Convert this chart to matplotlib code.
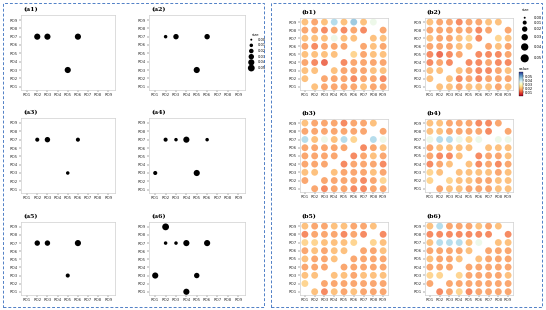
import matplotlib
matplotlib.use('Agg')
import matplotlib.pyplot as plt
import numpy as np
from matplotlib.patches import Rectangle
from matplotlib import cm, colors

W, H = 546, 310
labels = ['RO1', 'RO2', 'RO3', 'RO4', 'RO5', 'RO6', 'RO7', 'RO8', 'RO9']

# ---- (a) panels: x station, y station, size
a1_x = ['RO2', 'RO3', 'RO6', 'RO5']
a1_y = ['RO7', 'RO7', 'RO7', 'RO3']
a1_s = [0.04, 0.04, 0.04, 0.04]

a2_x = ['RO2', 'RO3', 'RO6', 'RO5']
a2_y = ['RO7', 'RO7', 'RO7', 'RO3']
a2_s = [0.01, 0.03, 0.03, 0.04]

a3_x = ['RO2', 'RO3', 'RO6', 'RO5']
a3_y = ['RO7', 'RO7', 'RO7', 'RO3']
a3_s = [0.015, 0.03, 0.015, 0.01]

a4_x = ['RO2', 'RO3', 'RO4', 'RO6', 'RO1', 'RO5']
a4_y = ['RO7', 'RO7', 'RO7', 'RO7', 'RO3', 'RO3']
a4_s = [0.015, 0.01, 0.04, 0.01, 0.015, 0.04]

a5_x = ['RO2', 'RO3', 'RO6', 'RO5']
a5_y = ['RO7', 'RO7', 'RO7', 'RO3']
a5_s = [0.03, 0.03, 0.04, 0.015]

a6_x = ['RO2', 'RO2', 'RO3', 'RO4', 'RO6', 'RO1', 'RO5', 'RO4']
a6_y = ['RO9', 'RO7', 'RO7', 'RO7', 'RO7', 'RO3', 'RO3', 'RO1']
a6_s = [0.05, 0.01, 0.01, 0.04, 0.04, 0.04, 0.03, 0.04]

size_ticks = [0.00, 0.01, 0.02, 0.03, 0.04, 0.05]

# ---- (b) panels: rows RO9 (top) .. RO1 (bottom), columns RO1 .. RO9
n = np.nan
b1_vals = [
    [0.019, 0.016, 0.019, 0.042, 0.019, 0.045, 0.019, 0.034, n],
    [0.016, 0.016, 0.013, 0.016, 0.013, 0.016, 0.013, n, 0.016],
    [0.019, 0.019, 0.019, 0.034, 0.019, 0.019, n, 0.019, 0.019],
    [0.016, 0.013, 0.016, 0.016, 0.016, n, 0.016, 0.019, 0.016],
    [0.019, 0.019, 0.019, 0.019, n, 0.022, 0.016, 0.019, 0.019],
    [0.016, 0.013, 0.010, n, 0.013, 0.016, 0.016, 0.016, 0.016],
    [0.019, 0.019, n, 0.019, 0.016, 0.016, 0.016, 0.019, 0.019],
    [0.019, n, 0.016, 0.016, 0.016, 0.013, 0.016, 0.016, 0.013],
    [n, 0.019, 0.016, 0.016, 0.016, 0.016, 0.019, 0.016, 0.016],
]
b2_vals = [
    [0.019, 0.016, 0.016, 0.013, 0.016, 0.016, 0.019, 0.019, n],
    [0.016, 0.016, 0.016, 0.016, 0.016, 0.013, 0.016, n, 0.016],
    [0.019, 0.016, 0.016, 0.019, 0.022, 0.013, n, 0.022, 0.019],
    [0.016, 0.016, 0.016, 0.019, 0.019, n, 0.016, 0.019, 0.016],
    [0.013, 0.010, 0.013, 0.016, n, 0.013, 0.013, 0.013, 0.016],
    [0.013, 0.016, 0.013, n, 0.013, 0.013, 0.016, 0.013, 0.013],
    [0.019, 0.019, n, 0.019, 0.016, 0.013, 0.013, 0.016, 0.019],
    [0.019, n, 0.019, 0.013, 0.016, 0.013, 0.016, 0.016, 0.016],
    [n, 0.019, 0.019, 0.016, 0.019, 0.019, 0.019, 0.016, 0.019],
]
b3_vals = [
    [0.019, 0.016, 0.016, 0.016, 0.013, 0.016, 0.016, 0.019, n],
    [0.016, 0.016, 0.016, 0.016, 0.016, 0.016, 0.016, n, 0.016],
    [0.042, 0.019, 0.034, 0.019, 0.042, 0.022, n, 0.042, 0.034],
    [0.016, 0.016, 0.016, 0.016, 0.016, n, 0.013, 0.016, 0.019],
    [0.016, 0.016, 0.016, 0.016, n, 0.013, 0.016, 0.019, 0.016],
    [0.016, 0.016, 0.016, n, 0.013, 0.016, 0.016, 0.016, 0.013],
    [0.019, 0.019, n, 0.019, 0.016, 0.016, 0.016, 0.019, 0.016],
    [0.016, n, 0.016, 0.016, 0.016, 0.016, 0.013, 0.016, 0.022],
    [n, 0.016, 0.013, 0.016, 0.016, 0.013, 0.013, 0.016, 0.016],
]
b4_vals = [
    [0.019, 0.019, 0.016, 0.016, 0.016, 0.013, 0.013, 0.016, n],
    [0.019, 0.019, 0.016, 0.016, 0.016, 0.016, 0.013, n, 0.016],
    [0.034, 0.042, 0.042, 0.034, 0.022, 0.034, n, 0.034, 0.034],
    [0.016, 0.019, 0.019, 0.019, 0.019, n, 0.019, 0.019, 0.019],
    [0.016, 0.013, 0.013, 0.019, n, 0.013, 0.016, 0.016, 0.019],
    [0.013, 0.016, 0.019, n, 0.019, 0.013, 0.016, 0.013, 0.016],
    [0.022, 0.019, n, 0.019, 0.019, 0.019, 0.019, 0.016, 0.019],
    [0.022, n, 0.022, 0.019, 0.019, 0.016, 0.016, 0.019, 0.019],
    [n, 0.016, 0.019, 0.019, 0.016, 0.016, 0.016, 0.019, 0.019],
]
b5_vals = [
    [0.019, 0.016, 0.016, 0.019, 0.019, 0.016, 0.016, 0.019, n],
    [0.013, 0.016, 0.016, 0.016, 0.013, 0.016, 0.013, n, 0.013],
    [0.022, 0.022, 0.019, 0.019, 0.019, 0.022, n, 0.022, 0.019],
    [0.016, 0.019, 0.016, 0.019, 0.019, n, 0.016, 0.016, 0.019],
    [0.019, 0.016, 0.016, 0.019, n, 0.016, 0.016, 0.016, 0.016],
    [0.016, 0.016, 0.016, n, 0.016, 0.016, 0.016, 0.016, 0.016],
    [0.019, 0.019, n, 0.019, 0.019, 0.016, 0.019, 0.019, 0.019],
    [0.022, n, 0.016, 0.016, 0.016, 0.016, 0.016, 0.016, 0.016],
    [n, 0.019, 0.013, 0.019, 0.016, 0.019, 0.016, 0.016, 0.016],
]
b6_vals = [
    [0.019, 0.042, 0.016, 0.016, 0.016, 0.019, 0.016, 0.019, n],
    [0.013, 0.013, 0.013, 0.013, 0.013, 0.013, 0.013, n, 0.013],
    [0.019, 0.042, 0.042, 0.042, 0.019, 0.034, n, 0.019, 0.019],
    [0.016, 0.016, 0.016, 0.016, 0.019, n, 0.016, 0.016, 0.016],
    [0.019, 0.016, 0.016, 0.019, n, 0.019, 0.016, 0.016, 0.016],
    [0.016, 0.016, 0.016, n, 0.016, 0.016, 0.016, 0.016, 0.016],
    [0.022, 0.022, n, 0.022, 0.016, 0.016, 0.016, 0.016, 0.019],
    [0.016, n, 0.016, 0.016, 0.016, 0.016, 0.016, 0.016, 0.016],
    [n, 0.013, 0.016, 0.022, 0.013, 0.016, 0.016, 0.016, 0.016],
]
b_size = 0.035
value_ticks = [0.01, 0.02, 0.03, 0.04, 0.05]

cmap = plt.get_cmap('RdYlBu')
norm = colors.Normalize(vmin=0.0, vmax=0.06)


def size_a(v):
    return 2 + np.asarray(v) / 0.05 * 22


def size_b(v):
    return 2 + np.asarray(v) / 0.05 * 32


def px(x0, y0, x1, y1):
    return [x0 / W, 1 - y1 / H, (x1 - x0) / W, (y1 - y0) / H]


def style_axes(ax, title):
    ax.set_xticks(range(1, 10))
    ax.set_yticks(range(1, 10))
    ax.set_xticklabels(labels)
    ax.set_yticklabels(labels)
    ax.tick_params(labelsize=2.8, length=1.2, width=0.3, pad=1, colors='#333333')
    for sp in ax.spines.values():
        sp.set_color('#cfcfcf')
        sp.set_linewidth(0.5)
    ax.text(0.02, 1.04, title, transform=ax.transAxes, fontsize=4.5,
            fontweight='bold', family='DejaVu Serif', ha='left', va='bottom')


fig = plt.figure(figsize=(W / 100, H / 100), dpi=100)

# dashed frames
for x0, x1 in [(3, 264), (271, 542)]:
    fig.patches.append(Rectangle((x0 / W, 3 / H), (x1 - x0) / W, (H - 6) / H,
                                 transform=fig.transFigure, fill=False,
                                 ec='#4f7fc6', lw=0.7, ls=(0, (3, 2))))

a_sets = [(a1_x, a1_y, a1_s, '(a1)'), (a2_x, a2_y, a2_s, '(a2)'),
          (a3_x, a3_y, a3_s, '(a3)'), (a4_x, a4_y, a4_s, '(a4)'),
          (a5_x, a5_y, a5_s, '(a5)'), (a6_x, a6_y, a6_s, '(a6)')]
rows = [(15, 90), (118, 193), (222, 295)]
a_cols = [(21, 115), (149, 245)]

for i, (xs, ys, ss, t) in enumerate(a_sets):
    top, bot = rows[i // 2]
    left, right = a_cols[i % 2]
    ax = fig.add_axes(px(left, top, right, bot))
    xi = [labels.index(v) + 1 for v in xs]
    yi = [labels.index(v) + 1 for v in ys]
    ax.scatter(xi, yi, s=size_a(ss), c='black', lw=0)
    ax.set_xlim(0.4, 9.65)
    ax.set_ylim(0.6, 9.6)
    style_axes(ax, t)

# size legend for (a)
lg = fig.add_axes(px(245, 34, 266, 72))
lg.axis('off')
lg.set_xlim(0, 1)
lg.set_ylim(0.3, 7)
lg.scatter([0.3] * 6, np.arange(6, 0, -1), s=size_a(size_ticks), c='black', lw=0)
for k, v in enumerate(size_ticks):
    lg.text(0.6, 6 - k, f'{v:.2f}', fontsize=2.6, va='center', ha='left')
lg.text(0.3, 6.9, 'size', fontsize=2.8, ha='left', va='center')

b_sets = [(b1_vals, '(b1)'), (b2_vals, '(b2)'), (b3_vals, '(b3)'),
          (b4_vals, '(b4)'), (b5_vals, '(b5)'), (b6_vals, '(b6)')]
b_rows = [(18, 90), (119, 192), (222, 295)]
b_cols = [(300, 388), (425, 513)]
yy, xx = np.meshgrid(np.arange(9, 0, -1), np.arange(1, 10), indexing='ij')

for i, (vals, t) in enumerate(b_sets):
    top, bot = b_rows[i // 2]
    left, right = b_cols[i % 2]
    ax = fig.add_axes(px(left, top, right, bot))
    v = np.array(vals)
    m = ~np.isnan(v)
    ax.scatter(xx[m], yy[m], s=size_b(b_size), c=v[m], cmap=cmap, norm=norm,
               lw=0, alpha=0.85)
    ax.set_xlim(0.5, 9.5)
    ax.set_ylim(0.6, 9.5)
    style_axes(ax, t)

# size legend for (b)
lg = fig.add_axes(px(516, 8, 545, 64))
lg.axis('off')
lg.set_xlim(0, 1)
lg.set_ylim(0.3, 7.2)
ypos = [6, 5.4, 4.6, 3.6, 2.4, 1.0]
lg.scatter([0.3] * 6, ypos, s=size_b(size_ticks), c='black', lw=0)
for yv, v in zip(ypos, size_ticks):
    lg.text(0.62, yv, f'{v:.2f}', fontsize=2.6, va='center', ha='left')
lg.text(0.2, 6.9, 'size', fontsize=2.8, ha='left', va='center')

# colorbar for (b)
cax = fig.add_axes(px(519, 72, 523, 96))
sm = cm.ScalarMappable(norm=norm, cmap=cmap)
cb = fig.colorbar(sm, cax=cax, ticks=value_ticks)
cb.ax.tick_params(labelsize=2.6, length=0.8, width=0.3, pad=0.8)
cb.outline.set_linewidth(0.2)
cb.ax.set_yticklabels([f'{v:.2f}' for v in value_ticks])
fig.text(519 / W, 1 - 69 / H, 'value', fontsize=2.8, ha='left', va='center')

fig.savefig('out.png', dpi=100)
